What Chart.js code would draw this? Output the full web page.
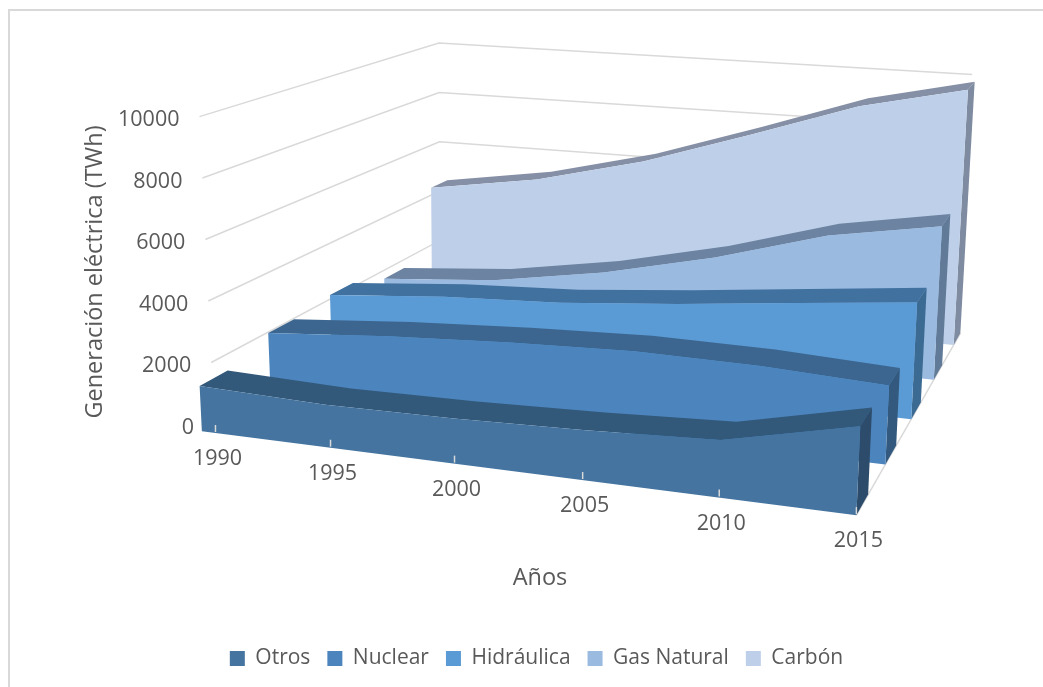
<!DOCTYPE html>
<html>
<head>
<meta charset="utf-8">
<script src="https://cdn.jsdelivr.net/npm/chart.js@4"></script>
<style>
  html, body { margin: 0; padding: 0; background: #fff; }
  #wrap { position: relative; width: 1043px; height: 687px; overflow: hidden; }
  #frame { position: absolute; left: 8px; top: 9px; width: 1040px; height: 690px; border: 2px solid #d9d9d9; }
  canvas { position: absolute; left: 0; top: 0; }
</style>
</head>
<body>
<div id="wrap">
  <div id="frame"></div>
  <canvas id="grafico" width="1043" height="687"></canvas>
</div>
<script>
const years = ['1990', '1995', '2000', '2005', '2010', '2015'];
const yTicks = [0, 2000, 4000, 6000, 8000, 10000];

// series front to back, same order as the legend
const seriesNames = ['Otros', 'Nuclear', 'Hidráulica', 'Gas Natural', 'Carbón'];
const otros = [1460, 1360, 1440, 1590, 1810, 2780];
const nuclear = [1970, 2330, 2590, 2770, 2760, 2600];
const hidraulica = [2145, 2520, 2740, 3130, 3590, 4030];
const gasNatural = [1680, 2030, 2720, 3660, 4840, 5540];
const carbon = [4300, 4960, 5990, 7330, 8700, 9580];
const seriesValues = [otros, nuclear, hidraulica, gasNatural, carbon];

const frontColors = ['#44749f', '#4c85bd', '#5b9bd5', '#9abae0', '#bed0e9'];
const topColors = ['#32587a', '#3c668f', '#41719f', '#6c83a1', '#858fa5'];
const sideColors = ['#2d4c6b', '#335a7e', '#3b6a93', '#617a98', '#7e8ba0'];

// depth of each ribbon, 0 = front of the box, 1 = back
const depthFront = [0, 0.279, 0.528, 0.745, 0.936];
const depthBack = [0.113, 0.383, 0.62, 0.825, 1];

// corners of the 3d box on the page
const box = {
  fl: [202, 431], fr: [857, 515], bl: [448, 285], br: [961, 333],
  flTop: [186.6, 120], frTop: [871, 195], blTop: [447, 40], brTop: [976, 70]
};
const maxVal = 10000;
const lastYear = years.length - 1;
const frontWarp = 0.943; // years bunch up a little on the near side

function mix(a, b, k) { return [a[0] + (b[0] - a[0]) * k, a[1] + (b[1] - a[1]) * k]; }

// t = year index, d = depth, v = value
function project(t, d, v) {
  const u = t / lastYear;
  const a = frontWarp + (1 - frontWarp) * d;
  const k = a * u / (1 + (a - 1) * u);
  const low = mix(mix(box.fl, box.fr, k), mix(box.bl, box.br, k), d);
  const high = mix(mix(box.flTop, box.frTop, k), mix(box.blTop, box.brTop, k), d);
  const p = mix(low, high, v / maxVal);
  return { x: p[0], y: p[1] };
}

const datasets = [];

function addPolygon(label, color, points) {
  datasets.push({ label, data: points, backgroundColor: color, borderColor: color, polygon: true });
}

seriesValues.forEach((vals, i) => {
  const df = depthFront[i], db = depthBack[i];
  const front = vals.map((v, t) => project(t, df, v));
  const back = vals.map((v, t) => project(t, db, v));
  addPolygon(seriesNames[i], frontColors[i],
    [project(0, df, 0)].concat(front, [project(lastYear, df, 0)]));
  addPolygon(seriesNames[i] + ' lado', sideColors[i], [
    project(lastYear, df, 0), project(lastYear, df, vals[lastYear]),
    project(lastYear, db, vals[lastYear]), project(lastYear, db, 0)
  ]);
  addPolygon(seriesNames[i] + ' techo', topColors[i], front.concat(back.slice().reverse()));
});

// tick marks sit on the front of the first ribbon, 1990 a bit in from the edge
const tickPos = [0.11, 1.03, 2, 2.98, 4, 5];
const gridColor = '#d9d9d9';
const wallStart = 0.05, wallDepth = 0.97;

function addLine(label, color, points) {
  datasets.push({ label, data: points, borderColor: color, borderWidth: 1.5, backgroundColor: color });
}

yTicks.forEach(v => {
  addLine('grid ' + v, gridColor, [project(0, wallStart, v), project(0, wallDepth, v), project(lastYear, wallDepth, v)]);
});
addLine('suelo', gridColor, [project(lastYear, 0, 0), project(lastYear, 1, 0)]);

const extras = {
  id: 'extras',
  beforeDatasetDraw(chart, args) {
    const ds = chart.data.datasets[args.index];
    if (!ds.polygon) return;
    const pts = args.meta.data;
    const ctx = chart.ctx;
    ctx.save();
    ctx.beginPath();
    pts.forEach((p, n) => n ? ctx.lineTo(p.x, p.y) : ctx.moveTo(p.x, p.y));
    ctx.closePath();
    ctx.fillStyle = ds.backgroundColor;
    ctx.fill();
    ctx.restore();
  },
  afterDatasetsDraw(chart) {
    const ctx = chart.ctx, sx = chart.scales.x, sy = chart.scales.y;
    ctx.save();
    ctx.fillStyle = '#595959';
    ctx.textAlign = 'center';
    ctx.textBaseline = 'middle';
    ctx.font = '21.5px "Open Sans"';

    // value labels left of the box
    yTicks.forEach(v => {
      const p = project(0, wallStart, v);
      ctx.textAlign = 'right';
      ctx.fillText(String(v), sx.getPixelForValue(p.x) - 20, sy.getPixelForValue(p.y) + 3.5);
    });

    // year labels and tick marks
    ctx.textAlign = 'center';
    years.forEach((y, i) => {
      const p = project(tickPos[i], 0, 0);
      const px = sx.getPixelForValue(p.x), py = sy.getPixelForValue(p.y);
      ctx.fillText(y, px + 2, py + 26);
      ctx.strokeStyle = gridColor;
      ctx.lineWidth = 1.5;
      ctx.beginPath();
      ctx.moveTo(px, py - 8);
      ctx.lineTo(px, py - 1);
      ctx.stroke();
    });

    ctx.font = '23.5px "Open Sans"';
    ctx.fillText('Años', 540, 578);
    ctx.translate(95, 272);
    ctx.rotate(-Math.PI / 2);
    ctx.fillText('Generación eléctrica (TWh)', 0, 0);
    ctx.restore();
  }
};

const chart = new Chart(document.getElementById('grafico').getContext('2d'), {
  type: 'scatter',
  data: { datasets },
  plugins: [extras],
  options: {
    responsive: false,
    animation: false,
    clip: false,
    showLine: true,
    layout: { padding: { left: 30, bottom: 8 } },
    elements: { point: { radius: 0 }, line: { borderWidth: 0, tension: 0 } },
    scales: {
      x: { type: 'linear', display: false, min: 30, max: 1043 },
      y: { type: 'linear', display: false, min: 0, max: 635, reverse: true }
    },
    plugins: {
      tooltip: { enabled: false },
      legend: {
        position: 'bottom',
        labels: {
          filter: item => seriesNames.includes(item.text),
          boxWidth: 15, boxHeight: 15, padding: 17,
          color: '#595959',
          font: { family: '"Open Sans"', size: 21 }
        }
      }
    }
  }
});
// the legend takes room below the plot, keep 1 unit = 1 pixel
chart.options.scales.y.max = chart.chartArea.bottom;
chart.update();
</script>
</body>
</html>
